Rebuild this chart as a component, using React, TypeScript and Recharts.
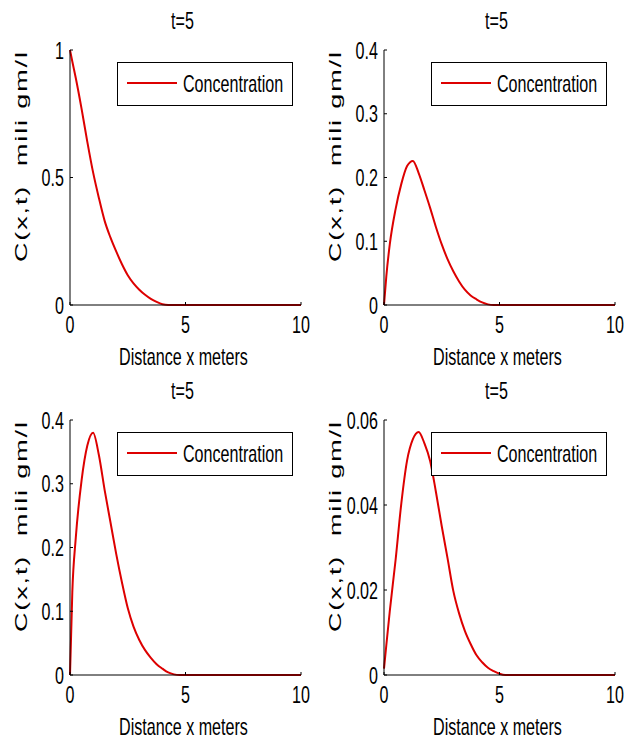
import { LineChart, Line, XAxis, YAxis, Legend, Label } from 'recharts'

// distance along the column (m) — same sampling for all four panels
const distance = [0, 0.1, 0.25, 0.5, 0.75, 1, 1.25, 1.5, 1.75, 2, 2.25, 2.5, 2.75, 3, 3.25, 3.5, 3.75, 4, 4.25, 4.5, 4.75, 5, 5.25, 5.5, 6, 7, 8, 9, 10]

// concentration
const concTopLeft = [1.0, 0.955, 0.89, 0.77, 0.64, 0.52, 0.42, 0.33, 0.265, 0.21, 0.16, 0.117, 0.085, 0.06, 0.04, 0.024, 0.012, 0.003, 0, 0, 0, 0, 0, 0, 0, 0, 0, 0, 0]
const concTopRight = [0, 0.045, 0.095, 0.15, 0.19, 0.218, 0.226, 0.207, 0.18, 0.152, 0.122, 0.095, 0.072, 0.053, 0.037, 0.024, 0.015, 0.009, 0.004, 0.001, 0, 0, 0, 0, 0, 0, 0, 0, 0]
const concBottomLeft = [0, 0.13, 0.215, 0.305, 0.36, 0.38, 0.345, 0.29, 0.24, 0.19, 0.145, 0.105, 0.076, 0.055, 0.039, 0.027, 0.017, 0.01, 0.004, 0.001, 0, 0, 0, 0, 0, 0, 0, 0, 0]
const concBottomRight = [0.0015, 0.007, 0.015, 0.027, 0.0404, 0.0505, 0.0555, 0.0572, 0.0545, 0.0503, 0.043, 0.035, 0.0275, 0.0198, 0.0145, 0.0104, 0.0073, 0.0047, 0.003, 0.0017, 0.0009, 0.0003, 0, 0, 0, 0, 0, 0, 0]

const xTicks = [0, 5, 10]
const yTicksTopLeft = [0, 0.5, 1]
const yTicksMid = [0, 0.1, 0.2, 0.3, 0.4]
const yTicksBottomRight = [0, 0.02, 0.04, 0.06]

const titles = ['t=5', 't=5', 't=5', 't=5']
const seriesName = 'Concentration'
const xTitle = 'Distance x meters'
const yTitle = 'C(x,t)  mili gm/l'

const FONT = '"Liberation Sans", Arial, sans-serif'
const RED = '#dd0000'
const W = 314
const H = 370

// the source picture is squeezed horizontally, so text is narrowed to match
function SqText({ x, y, anchor = 'middle', children }: any) {
  return (
    <text
      transform={`translate(${x},${y}) scale(0.7,1)`}
      textAnchor={anchor}
      fontFamily={FONT}
      fontSize={23}
      fill="#000"
    >
      {children}
    </text>
  )
}

const BottomTick = ({ x, y, payload }: any) => (
  <g>
    <line x1={x} y1={y} x2={x} y2={y - 3} stroke="#000" />
    <SqText x={x} y={y + 28}>{payload.value}</SqText>
  </g>
)
const LeftTick = ({ x, y, payload }: any) => (
  <g>
    <line x1={x} y1={y} x2={x + 3} y2={y} stroke="#000" />
    <SqText x={x - 6} y={y + 8.5} anchor="end">{payload.value}</SqText>
  </g>
)
const TopTick = ({ x, y }: any) => <line x1={x} y1={y} x2={x} y2={y + 3} stroke="#000" />
const RightTick = ({ x, y }: any) => <line x1={x} y1={y} x2={x - 3} y2={y} stroke="#000" />

function LegendBox() {
  return (
    <svg width={176} height={44} style={{ display: 'block' }}>
      <rect x={0.5} y={0.5} width={175} height={43} fill="#fff" stroke="#000" />
      <line x1={10} y1={21} x2={60} y2={21} stroke={RED} strokeWidth={2} />
      <SqText x={66} y={30} anchor="start">{seriesName}</SqText>
    </svg>
  )
}

function Panel({ values, yMax, yTicks, title }: { values: number[]; yMax: number; yTicks: number[]; title: string }) {
  const data = distance.map((x, i) => ({ x, c: values[i] }))
  return (
    <LineChart width={W} height={H} data={data} margin={{ top: 50, right: 13, bottom: 0, left: 0 }}>
      <XAxis
        dataKey="x"
        type="number"
        domain={[0, 10]}
        ticks={xTicks}
        height={65}
        stroke="#000"
        tickLine={false}
        tickSize={0}
        tickMargin={0}
        tick={<BottomTick />}
      >
        <Label
          content={({ viewBox }: any) => (
            <SqText x={viewBox.x + viewBox.width / 2 - 2} y={viewBox.y + 60}>{xTitle}</SqText>
          )}
        />
      </XAxis>
      <XAxis
        xAxisId="top"
        orientation="top"
        type="number"
        domain={[0, 10]}
        allowDataOverflow
        ticks={xTicks}
        height={0}
        stroke="#000"
        tickLine={false}
        tickSize={0}
        tickMargin={0}
        tick={<TopTick />}
      />
      <YAxis
        type="number"
        domain={[0, yMax]}
        ticks={yTicks}
        width={70}
        stroke="#000"
        tickLine={false}
        tickSize={0}
        tickMargin={0}
        tick={<LeftTick />}
      >
        <Label
          content={({ viewBox }: any) => (
            <text
              transform={`translate(${viewBox.x + 27},${viewBox.y + 107}) rotate(-90) scale(1,0.62)`}
              textAnchor="middle"
              fontFamily={FONT}
              fontSize={27}
              textLength={210}
              lengthAdjust="spacing"
              fill="#000"
              style={{ whiteSpace: 'pre' }}
            >
              {yTitle}
            </text>
          )}
        />
        <Label
          content={({ viewBox }: any) => (
            <SqText x={viewBox.x + viewBox.width + 231 / 2 - 3} y={viewBox.y - 21}>{title}</SqText>
          )}
        />
      </YAxis>
      <YAxis
        yAxisId="right"
        orientation="right"
        type="number"
        domain={[0, yMax]}
        allowDataOverflow
        ticks={yTicks}
        width={0}
        stroke="#000"
        tickLine={false}
        tickSize={0}
        tickMargin={0}
        tick={<RightTick />}
      />
      <Legend
        layout="horizontal"
        verticalAlign="middle"
        align="center"
        wrapperStyle={{ left: 117, top: 62, width: 176, height: 44 }}
        content={() => <LegendBox />}
      />
      <Line
        type="monotone"
        dataKey="c"
        name={seriesName}
        stroke={RED}
        strokeWidth={2}
        dot={false}
        isAnimationActive={false}
      />
    </LineChart>
  )
}

export default function App() {
  return (
    <div style={{ position: 'absolute', left: 0, top: 0, width: 628, height: 743, background: '#fff' }}>
      <div style={{ position: 'absolute', left: 0, top: 0 }}>
        <Panel values={concTopLeft} yMax={1} yTicks={yTicksTopLeft} title={titles[0]} />
      </div>
      <div style={{ position: 'absolute', left: W, top: 0 }}>
        <Panel values={concTopRight} yMax={0.4} yTicks={yTicksMid} title={titles[1]} />
      </div>
      <div style={{ position: 'absolute', left: 0, top: H }}>
        <Panel values={concBottomLeft} yMax={0.4} yTicks={yTicksMid} title={titles[2]} />
      </div>
      <div style={{ position: 'absolute', left: W, top: H }}>
        <Panel values={concBottomRight} yMax={0.06} yTicks={yTicksBottomRight} title={titles[3]} />
      </div>
    </div>
  )
}
